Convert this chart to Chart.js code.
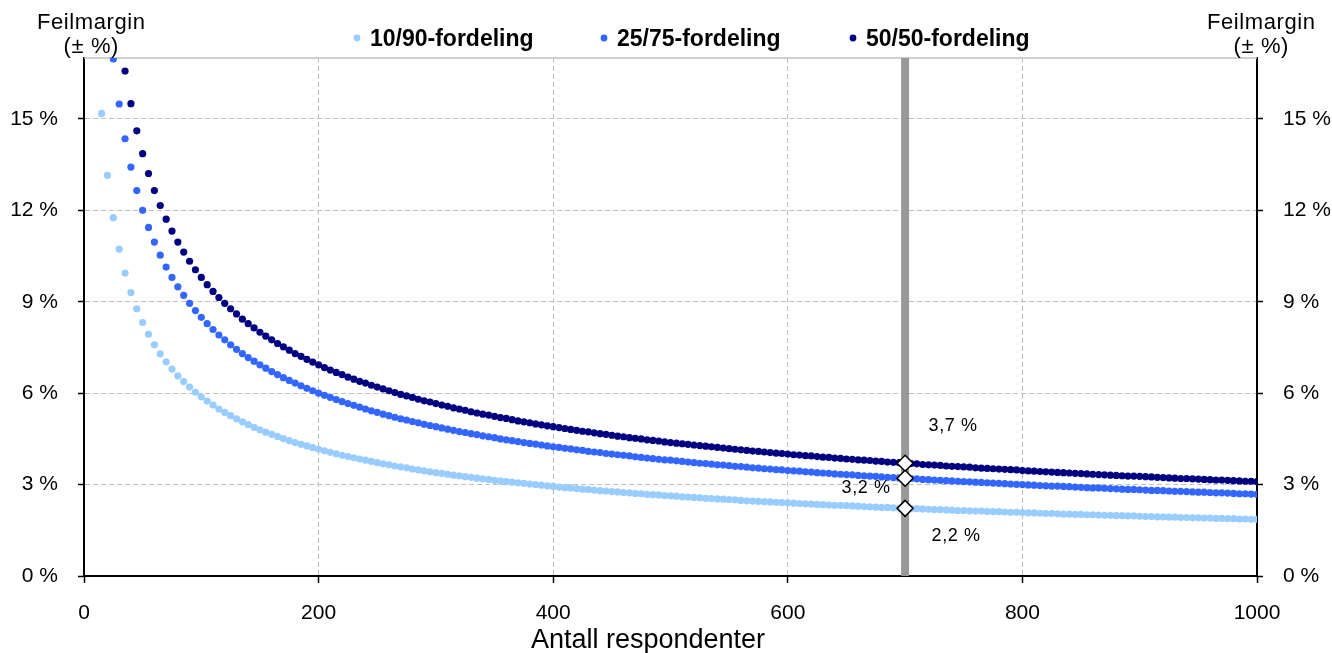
<!DOCTYPE html>
<html lang="no">
<head>
  <meta charset="UTF-8" />
  <title>Feilmargin etter antall respondenter</title>
  <script src="https://cdn.jsdelivr.net/npm/chart.js"></script>
  <style>
    body {
      margin: 0;
      padding: 0;
      background: #fff;
    }
    #chart {
      display: block;
    }
  </style>
</head>
<body>
  <canvas id="chart" width="1332" height="653"></canvas>

  <script>
    // antall respondenter (x), one point every 5
    const respondents = [
      15, 20, 25, 30, 35, 40, 45, 50, 55, 60, 65, 70, 75, 80, 85, 90, 95, 100,
      105, 110, 115, 120, 125, 130, 135, 140, 145, 150, 155, 160, 165, 170, 175, 180, 185, 190, 195, 200,
      205, 210, 215, 220, 225, 230, 235, 240, 245, 250, 255, 260, 265, 270, 275, 280, 285, 290, 295, 300,
      305, 310, 315, 320, 325, 330, 335, 340, 345, 350, 355, 360, 365, 370, 375, 380, 385, 390, 395, 400,
      405, 410, 415, 420, 425, 430, 435, 440, 445, 450, 455, 460, 465, 470, 475, 480, 485, 490, 495, 500,
      505, 510, 515, 520, 525, 530, 535, 540, 545, 550, 555, 560, 565, 570, 575, 580, 585, 590, 595, 600,
      605, 610, 615, 620, 625, 630, 635, 640, 645, 650, 655, 660, 665, 670, 675, 680, 685, 690, 695, 700,
      705, 710, 715, 720, 725, 730, 735, 740, 745, 750, 755, 760, 765, 770, 775, 780, 785, 790, 795, 800,
      805, 810, 815, 820, 825, 830, 835, 840, 845, 850, 855, 860, 865, 870, 875, 880, 885, 890, 895, 900,
      905, 910, 915, 920, 925, 930, 935, 940, 945, 950, 955, 960, 965, 970, 975, 980, 985, 990, 995, 1000
    ];

    // feilmargin in %, null = above the top of the chart
    const margin1090 = [
      15.18, 13.15, 11.76, 10.73, 9.94, 9.30, 8.77, 8.32, 7.93, 7.59, 7.29, 7.03, 6.79, 6.57, 6.38, 6.20, 6.03, 5.88,
      5.74, 5.61, 5.48, 5.37, 5.26, 5.16, 5.06, 4.97, 4.88, 4.80, 4.72, 4.65, 4.58, 4.51, 4.44, 4.38, 4.32, 4.27, 4.21, 4.16,
      4.11, 4.06, 4.01, 3.96, 3.92, 3.88, 3.84, 3.80, 3.76, 3.72, 3.68, 3.65, 3.61, 3.58, 3.55, 3.51, 3.48, 3.45, 3.42, 3.39,
      3.37, 3.34, 3.31, 3.29, 3.26, 3.24, 3.21, 3.19, 3.17, 3.14, 3.12, 3.10, 3.08, 3.06, 3.04, 3.02, 3.00, 2.98, 2.96, 2.94,
      2.92, 2.90, 2.89, 2.87, 2.85, 2.84, 2.82, 2.80, 2.79, 2.77, 2.76, 2.74, 2.73, 2.71, 2.70, 2.68, 2.67, 2.66, 2.64, 2.63,
      2.62, 2.60, 2.59, 2.58, 2.57, 2.55, 2.54, 2.53, 2.52, 2.51, 2.50, 2.48, 2.47, 2.46, 2.45, 2.44, 2.43, 2.42, 2.41, 2.40,
      2.39, 2.38, 2.37, 2.36, 2.35, 2.34, 2.33, 2.32, 2.32, 2.31, 2.30, 2.29, 2.28, 2.27, 2.26, 2.25, 2.25, 2.24, 2.23, 2.22,
      2.21, 2.21, 2.20, 2.19, 2.18, 2.18, 2.17, 2.16, 2.15, 2.15, 2.14, 2.13, 2.13, 2.12, 2.11, 2.11, 2.10, 2.09, 2.09, 2.08,
      2.07, 2.07, 2.06, 2.05, 2.05, 2.04, 2.03, 2.03, 2.02, 2.02, 2.01, 2.01, 2.00, 1.99, 1.99, 1.98, 1.98, 1.97, 1.97, 1.96,
      1.95, 1.95, 1.94, 1.94, 1.93, 1.93, 1.92, 1.92, 1.91, 1.91, 1.90, 1.90, 1.89, 1.89, 1.88, 1.88, 1.87, 1.87, 1.86, 1.86
    ];
    const margin2575 = [
      null, null, 16.97, 15.49, 14.35, 13.42, 12.65, 12.00, 11.44, 10.96, 10.53, 10.14, 9.80, 9.49, 9.21, 8.95, 8.71, 8.49,
      8.28, 8.09, 7.91, 7.75, 7.59, 7.44, 7.30, 7.17, 7.05, 6.93, 6.82, 6.71, 6.61, 6.51, 6.42, 6.33, 6.24, 6.16, 6.08, 6.00,
      5.93, 5.86, 5.79, 5.72, 5.66, 5.60, 5.54, 5.48, 5.42, 5.37, 5.31, 5.26, 5.21, 5.16, 5.12, 5.07, 5.03, 4.98, 4.94, 4.90,
      4.86, 4.82, 4.78, 4.74, 4.71, 4.67, 4.64, 4.60, 4.57, 4.54, 4.50, 4.47, 4.44, 4.41, 4.38, 4.35, 4.33, 4.30, 4.27, 4.24,
      4.22, 4.19, 4.17, 4.14, 4.12, 4.09, 4.07, 4.05, 4.02, 4.00, 3.98, 3.96, 3.94, 3.91, 3.89, 3.87, 3.85, 3.83, 3.81, 3.80,
      3.78, 3.76, 3.74, 3.72, 3.70, 3.69, 3.67, 3.65, 3.64, 3.62, 3.60, 3.59, 3.57, 3.55, 3.54, 3.52, 3.51, 3.49, 3.48, 3.46,
      3.45, 3.44, 3.42, 3.41, 3.39, 3.38, 3.37, 3.35, 3.34, 3.33, 3.32, 3.30, 3.29, 3.28, 3.27, 3.25, 3.24, 3.23, 3.22, 3.21,
      3.20, 3.19, 3.17, 3.16, 3.15, 3.14, 3.13, 3.12, 3.11, 3.10, 3.09, 3.08, 3.07, 3.06, 3.05, 3.04, 3.03, 3.02, 3.01, 3.00,
      2.99, 2.98, 2.97, 2.96, 2.95, 2.95, 2.94, 2.93, 2.92, 2.91, 2.90, 2.89, 2.89, 2.88, 2.87, 2.86, 2.85, 2.84, 2.84, 2.83,
      2.82, 2.81, 2.81, 2.80, 2.79, 2.78, 2.78, 2.77, 2.76, 2.75, 2.75, 2.74, 2.73, 2.73, 2.72, 2.71, 2.70, 2.70, 2.69, 2.68
    ];
    const margin5050 = [
      null, null, null, null, 16.57, 15.50, 14.61, 13.86, 13.21, 12.65, 12.16, 11.71, 11.32, 10.96, 10.63, 10.33, 10.05, 9.80,
      9.56, 9.34, 9.14, 8.95, 8.77, 8.60, 8.43, 8.28, 8.14, 8.00, 7.87, 7.75, 7.63, 7.52, 7.41, 7.30, 7.21, 7.11, 7.02, 6.93,
      6.84, 6.76, 6.68, 6.61, 6.53, 6.46, 6.39, 6.33, 6.26, 6.20, 6.14, 6.08, 6.02, 5.96, 5.91, 5.86, 5.80, 5.75, 5.71, 5.66,
      5.61, 5.57, 5.52, 5.48, 5.44, 5.39, 5.35, 5.31, 5.28, 5.24, 5.20, 5.17, 5.13, 5.09, 5.06, 5.03, 4.99, 4.96, 4.93, 4.90,
      4.87, 4.84, 4.81, 4.78, 4.75, 4.73, 4.70, 4.67, 4.65, 4.62, 4.59, 4.57, 4.54, 4.52, 4.50, 4.47, 4.45, 4.43, 4.40, 4.38,
      4.36, 4.34, 4.32, 4.30, 4.28, 4.26, 4.24, 4.22, 4.20, 4.18, 4.16, 4.14, 4.12, 4.10, 4.09, 4.07, 4.05, 4.03, 4.02, 4.00,
      3.98, 3.97, 3.95, 3.94, 3.92, 3.90, 3.89, 3.87, 3.86, 3.84, 3.83, 3.81, 3.80, 3.79, 3.77, 3.76, 3.74, 3.73, 3.72, 3.70,
      3.69, 3.68, 3.66, 3.65, 3.64, 3.63, 3.61, 3.60, 3.59, 3.58, 3.57, 3.55, 3.54, 3.53, 3.52, 3.51, 3.50, 3.49, 3.48, 3.46,
      3.45, 3.44, 3.43, 3.42, 3.41, 3.40, 3.39, 3.38, 3.37, 3.36, 3.35, 3.34, 3.33, 3.32, 3.31, 3.30, 3.29, 3.28, 3.28, 3.27,
      3.26, 3.25, 3.24, 3.23, 3.22, 3.21, 3.20, 3.20, 3.19, 3.18, 3.17, 3.16, 3.15, 3.15, 3.14, 3.13, 3.12, 3.11, 3.11, 3.10
    ];

    const seriesNames = ['10/90-fordeling', '25/75-fordeling', '50/50-fordeling'];
    const seriesValues = [margin1090, margin2575, margin5050];

    // highlighted sample size and its margins
    const markerRespondents = 700;
    const markerValues = [3.70, 3.21, 2.22];
    const markerLabels = ['3,7 %', '3,2 %', '2,2 %'];

    const xMin = 0, xMax = 1000, xStep = 200;
    const yMin = 0, yMax = 17, yStep = 3;

    const FONT = '"Liberation Sans", Arial, sans-serif';
    const colors = ['#99ccff', '#3366ff', '#000080'];

    function toPoints(values) {
      return respondents
        .map((n, i) => ({ x: n, y: values[i] }))
        .filter(p => p.y !== null);
    }

    // legend, axis titles and the 700-labels
    const textPlugin = {
      id: 'texts',
      beforeDatasetsDraw(chart) {
        const { ctx, chartArea, scales } = chart;
        const yTop = scales.y.getPixelForValue(yMax);
        ctx.save();
        ctx.strokeStyle = '#c0c0c0';
        ctx.lineWidth = 1.5;
        ctx.beginPath();
        ctx.moveTo(chartArea.left, yTop);
        ctx.lineTo(chartArea.right, yTop);
        ctx.stroke();
        ctx.restore();
      },
      afterDraw(chart) {
        const { ctx, scales } = chart;
        ctx.save();
        ctx.fillStyle = '#000';

        // legend
        const legendText = [370, 617, 866];
        ctx.font = 'bold 23px ' + FONT;
        ctx.textAlign = 'left';
        ctx.textBaseline = 'alphabetic';
        seriesNames.forEach((name, i) => {
          ctx.fillStyle = colors[i];
          ctx.beginPath();
          ctx.arc(legendText[i] - 13, 38, 3.4, 0, Math.PI * 2);
          ctx.fill();
          ctx.fillStyle = '#000';
          ctx.fillText(name, legendText[i], 46);
        });

        // axis titles
        ctx.textAlign = 'center';
        [91, 1261].forEach(cx => {
          ctx.font = '22px ' + FONT;
          ctx.letterSpacing = '0.6px';
          ctx.fillText('Feilmargin', cx + 0.3, 29);
          ctx.letterSpacing = '0.6px';
          ctx.fillText('(\u00b1 %)', cx + 0.3, 53);
        });
        ctx.letterSpacing = '0px';
        ctx.font = '27px ' + FONT;
        ctx.fillText('Antall respondenter', 648, 648);

        // labels next to the markers
        const offsets = [[48, -37], [-39, 10], [51, 28]];
        ctx.font = '18px ' + FONT;
        ctx.letterSpacing = '0.6px';
        ctx.textBaseline = 'middle';
        const px = scales.x.getPixelForValue(markerRespondents);
        markerValues.forEach((v, i) => {
          const py = scales.y.getPixelForValue(v);
          ctx.fillText(markerLabels[i], px + offsets[i][0], py + offsets[i][1]);
        });
        ctx.restore();
      }
    };

    const yTicks = {
      stepSize: yStep,
      includeBounds: false,
      color: '#000',
      padding: 20,
      font: { family: FONT, size: 21 },
      callback: v => v + ' %'
    };

    const datasets = [
      {
        label: 'markers',
        data: markerValues.map(v => ({ x: markerRespondents, y: v })),
        pointStyle: 'rectRot',
        pointRadius: 8,
        pointBackgroundColor: '#fff',
        pointBorderColor: '#000',
        pointBorderWidth: 1.5,
        clip: false,
        order: 0
      },
      {
        type: 'line',
        label: 'n700',
        data: [{ x: markerRespondents, y: yMin }, { x: markerRespondents, y: yMax }],
        borderColor: '#999999',
        borderWidth: 8,
        borderCapStyle: 'butt',
        pointRadius: 0,
        order: 1
      }
    ];
    seriesValues.forEach((vals, i) => {
      datasets.push({
        label: seriesNames[i],
        data: toPoints(vals),
        pointRadius: 3.6,
        pointBorderWidth: 0,
        pointBackgroundColor: colors[i],
        order: 4 - i
      });
    });

    new Chart(document.getElementById('chart'), {
      type: 'scatter',
      data: { datasets },
      options: {
        responsive: false,
        animation: false,
        events: [],
        layout: { padding: { top: 58, left: 0, right: 0, bottom: 0 } },
        plugins: {
          legend: { display: false },
          tooltip: { enabled: false }
        },
        scales: {
          x: {
            type: 'linear',
            min: xMin,
            max: xMax,
            afterFit: s => { s.height = 77; },
            ticks: {
              stepSize: xStep,
              color: '#000',
              padding: 18,
              maxRotation: 0,
              font: { family: FONT, size: 21 },
              callback: v => String(v)
            },
            grid: { color: '#c0c0c0', lineWidth: 1, tickColor: '#000', tickLength: 7, tickWidth: 1.5 },
            border: { display: true, color: '#000', width: 2, dash: [5, 3] }
          },
          y: {
            position: 'left',
            min: yMin,
            max: yMax,
            afterFit: s => { s.width = 84; },
            ticks: yTicks,
            grid: { color: '#c0c0c0', lineWidth: 1, tickColor: '#000', tickLength: 6, tickWidth: 1.5 },
            border: { display: true, color: '#000', width: 2, dash: [5, 3] }
          },
          y2: {
            position: 'right',
            min: yMin,
            max: yMax,
            afterFit: s => { s.width = 75; },
            ticks: yTicks,
            grid: { drawOnChartArea: false, tickColor: '#000', tickLength: 6, tickWidth: 1.5 },
            border: { display: true, color: '#000', width: 2 }
          }
        }
      },
      plugins: [textPlugin]
    });
  </script>
</body>
</html>
